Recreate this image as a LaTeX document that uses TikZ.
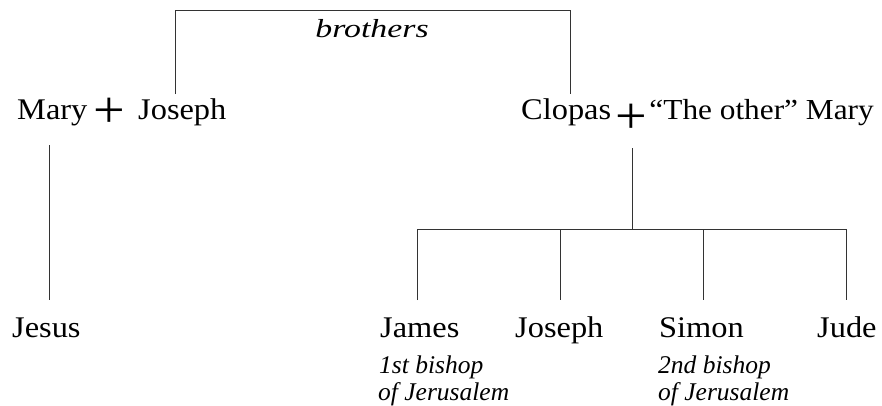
\documentclass[tikz,border=0pt]{standalone}
\usepackage{fontspec}
\usepackage{graphicx}
\setmainfont{Liberation Serif}[FakeStretch=1.08]
\newfontfamily\notefont{Liberation Serif Italic}[FakeStretch=1.0]
\newfontfamily\brofont{Liberation Serif Italic}[FakeStretch=1.3]
\begin{document}
\begin{tikzpicture}[x=1pt,y=-1pt,
  pname/.style={inner sep=0pt,anchor=base west,font=\fontsize{30}{30}\selectfont},
  pnote/.style={inner sep=0pt,anchor=base west,font=\fontsize{25.5}{25.5}\notefont},
  pplus/.style={inner sep=0pt,anchor=base,font=\fontsize{52}{52}\selectfont},
  link/.style={line width=1pt,draw=black!80}]
\useasboundingbox (0,0) rectangle (882,405);
% parents
\node[pname] (mary) at (17,119) {Mary};
\node[pplus] (p1) at (109,127) {+};
\node[pname] (joseph) at (138,119) {Joseph};
\node[pname] (clopas) at (521,119) {Clopas};
\node[pplus] (p2) at (631,133) {+};
\node[pname,anchor=base east,font=\fontsize{29}{29}\selectfont] (omary) at (874,119) {``The other'' Mary};
\node[inner sep=0pt,anchor=base,font=\fontsize{26}{26}\brofont] (bro) at (372,37) {brothers};
% children
\node[pname] (jesus) at (12,337) {Jesus};
\node[pname] (james) at (380,337) {James};
\node[pname] (josephb) at (515,337) {Joseph};
\node[pname] (simon) at (659,337) {Simon};
\node[pname] (jude) at (817,337) {Jude};
\node[pnote] (n1a) at (379,373) {1st bishop};
\node[pnote] (n1b) at (378,400) {of Jerusalem};
\node[pnote] (n2a) at (658,373) {2nd bishop};
\node[pnote] (n2b) at (658,400) {of Jerusalem};
% connector points
\coordinate (bA) at (175,94);
\coordinate (bB) at (175,10);
\coordinate (bC) at (570,10);
\coordinate (bD) at (570,94);
\coordinate (mA) at (49,145);
\coordinate (mB) at (49,300);
\coordinate (cA) at (632,148);
\coordinate (cB) at (632,229);
\coordinate (h1) at (417,229);
\coordinate (h2) at (846,229);
\coordinate (k1) at (417,300);
\coordinate (k2) at (560,229);
\coordinate (k2b) at (560,300);
\coordinate (k3) at (703,229);
\coordinate (k3b) at (703,300);
\coordinate (k4) at (846,300);
\draw[link] (bA) -- (bB) -- (bC) -- (bD);
\draw[link] (mA) -- (mB);
\draw[link] (cA) -- (cB);
\draw[link] (k1) -- (h1) -- (h2) -- (k4);
\draw[link] (k2) -- (k2b);
\draw[link] (k3) -- (k3b);
\end{tikzpicture}
\end{document}
